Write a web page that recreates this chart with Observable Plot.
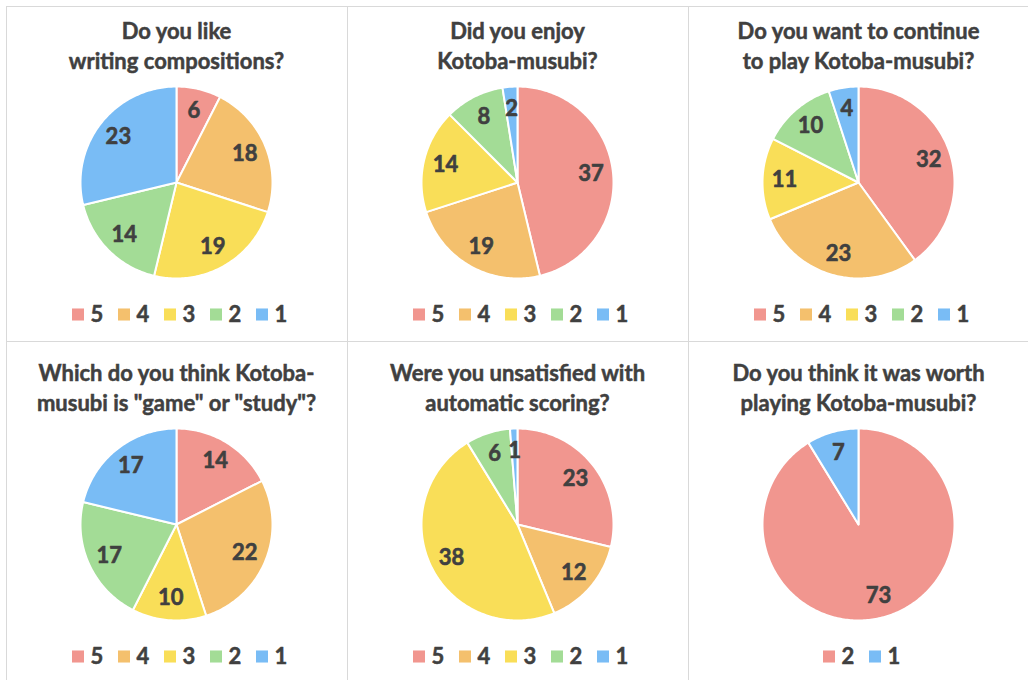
<!DOCTYPE html>
<html><head><meta charset="utf-8">
<script src="https://cdn.jsdelivr.net/npm/d3@7"></script>
<script src="https://cdn.jsdelivr.net/npm/@observablehq/plot@0.6"></script>
<style>
body{margin:0;background:#fff;font-family:Lato,"Open Sans",sans-serif;}
#wrap{position:relative;width:1028px;height:680px;overflow:hidden;background:#fff;}
.vline{position:absolute;width:1px;background:#d9d9d9;}
.hline{position:absolute;height:1px;background:#d9d9d9;}
.cell{position:absolute;width:341px;height:335px;}
.title{position:absolute;left:0;right:0;top:10px;text-align:center;font-weight:700;font-size:22px;line-height:30px;color:#404040;white-space:pre;-webkit-text-stroke:0.5px #404040;}
.pie{position:absolute;left:70px;top:76px;}
.legend{position:absolute;left:0;top:293px;}
</style>
</head><body>
<div id="wrap"></div>
<script>
// ---- data ----
const titles = [
  "Do you like\nwriting compositions?",
  "Did you enjoy\nKotoba-musubi?",
  "Do you want to continue\nto play Kotoba-musubi?",
  "Which do you think Kotoba-\nmusubi is \"game\" or \"study\"?",
  "Were you unsatisfied with\nautomatic scoring?",
  "Do you think it was worth\nplaying Kotoba-musubi?"
];
const categories5 = ["5", "4", "3", "2", "1"];
const categories2 = ["2", "1"];
const likeWriting = [6, 18, 19, 14, 23];
const enjoyKotoba = [37, 19, 14, 8, 2];
const continuePlay = [32, 23, 11, 10, 4];
const gameOrStudy = [14, 22, 10, 17, 17];
const unsatisfiedScoring = [23, 12, 38, 6, 1];
const worthPlaying = [73, 7];
const colors5 = ["#F1968F", "#F4C06D", "#F9DE58", "#A3DC96", "#79BCF5"];
const colors2 = ["#F1968F", "#79BCF5"];

const charts = [
  {title: titles[0], cats: categories5, vals: likeWriting, colors: colors5},
  {title: titles[1], cats: categories5, vals: enjoyKotoba, colors: colors5},
  {title: titles[2], cats: categories5, vals: continuePlay, colors: colors5},
  {title: titles[3], cats: categories5, vals: gameOrStudy, colors: colors5},
  {title: titles[4], cats: categories5, vals: unsatisfiedScoring, colors: colors5},
  {title: titles[5], cats: categories2, vals: worthPlaying, colors: colors2}
];

const wrap = document.getElementById("wrap");
const colLeft = [6, 347, 688];
const rowTop = [6, 348];

// grid lines
function line(cls, style) { const d = document.createElement("div"); d.className = cls; Object.assign(d.style, style); wrap.appendChild(d); }
line("hline", {left: "6px", width: "1022px", top: "6px"});
line("hline", {left: "6px", width: "1022px", top: "341px"});
line("vline", {left: "6px", top: "6px", height: "674px"});
line("vline", {left: "347px", top: "6px", height: "674px"});
line("vline", {left: "688px", top: "6px", height: "674px"});

const R = 96, LR = 74;
const textColor = "#404040";
const CELL_W = 341, PITCH = 46;

charts.forEach((c, i) => {
  const cell = document.createElement("div");
  cell.className = "cell";
  cell.style.left = colLeft[i % 3] + "px";
  cell.style.top = rowTop[Math.floor(i / 3)] + "px";
  wrap.appendChild(cell);

  const t = document.createElement("div");
  t.className = "title";
  t.textContent = c.title;
  cell.appendChild(t);

  const rows = c.cats.map((k, j) => ({key: k, value: c.vals[j]}));
  const arcs = d3.pie().sort(null).value(d => d.value).startAngle(0).endAngle(2 * Math.PI)(rows);
  const pts = [];
  const labels = [];
  arcs.forEach(a => {
    const key = a.data.key;
    pts.push({key, x: 0, y: 0});
    const n = Math.max(2, Math.ceil((a.endAngle - a.startAngle) / (Math.PI / 180)));
    for (let s = 0; s <= n; s++) {
      const ang = a.startAngle + (a.endAngle - a.startAngle) * s / n;
      pts.push({key, x: R * Math.sin(ang), y: R * Math.cos(ang)});
    }
    const mid = (a.startAngle + a.endAngle) / 2;
    labels.push({key, value: a.data.value, x: LR * Math.sin(mid), y: LR * Math.cos(mid)});
  });

  const svg = Plot.plot({
    width: 200, height: 200, margin: 0, inset: 0,
    style: {background: "transparent"},
    x: {domain: [-100, 100], axis: null},
    y: {domain: [-100, 100], axis: null},
    color: {type: "ordinal", domain: c.cats, range: c.colors},
    marks: [
      Plot.line(pts, {x: "x", y: "y", z: "key", fill: "key", stroke: "white", strokeWidth: 2, strokeLinejoin: "round", curve: "linear-closed"}),
      Plot.text(labels, {x: "x", y: "y", text: d => String(d.value), fill: textColor, stroke: textColor, strokeWidth: 0.6, fontSize: 22, fontWeight: "bold", fontFamily: "Lato"})
    ]
  });
  svg.classList.add("pie");
  cell.appendChild(svg);

  // legend drawn with Plot (swatch squares + labels on a point scale)
  const n = c.cats.length;
  const mid = CELL_W / 2 + 2;
  const lg = Plot.plot({
    width: CELL_W, height: 30, margin: 0,
    style: {background: "transparent", overflow: "visible"},
    x: {type: "point", padding: 0, align: 0.5, domain: c.cats, range: [mid - (n - 1) * PITCH / 2, mid + (n - 1) * PITCH / 2], axis: null},
    color: {type: "ordinal", domain: c.cats, range: c.colors},
    marks: [
      Plot.dot(c.cats, {x: d => d, fill: d => d, symbol: "square", r: 6.8, dx: -9.5, stroke: null}),
      Plot.text(c.cats, {x: d => d, text: d => d, dx: 3, textAnchor: "start", fill: textColor, stroke: textColor, strokeWidth: 0.5, fontSize: 22, fontWeight: "bold", fontFamily: "Lato"})
    ]
  });
  lg.classList.add("legend");
  cell.appendChild(lg);
});
</script>
</body></html>
